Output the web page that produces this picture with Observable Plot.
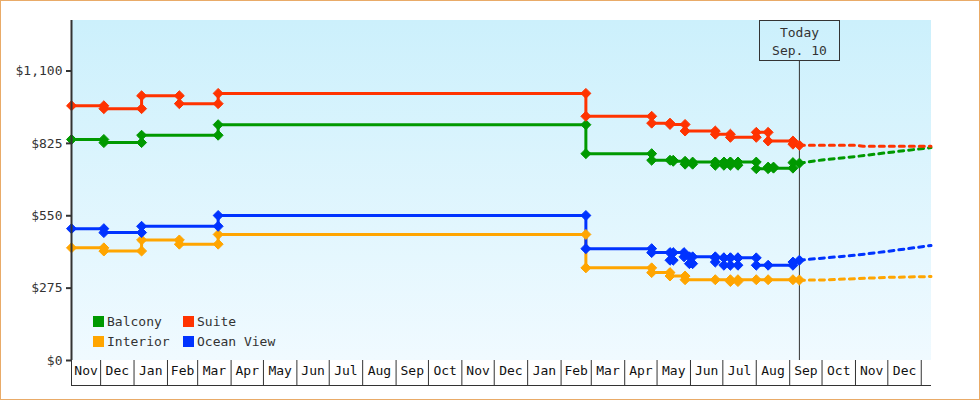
<!DOCTYPE html>
<html><head><meta charset="utf-8">
<script src="https://cdn.jsdelivr.net/npm/d3@7"></script>
<script src="https://cdn.jsdelivr.net/npm/@observablehq/plot@0.6"></script>
<style>
html,body{margin:0;padding:0;background:#fff;}
#wrap{position:relative;width:978px;height:398px;border:1px solid #e9ab68;overflow:hidden;background:#fff;}
#legend{position:absolute;left:92px;top:314px;display:grid;grid-template-columns:90px 110px;grid-auto-rows:20px;font:13px "DejaVu Sans Mono",monospace;color:#333;}
#legend .item{display:flex;align-items:flex-start;line-height:13px;white-space:nowrap;}
#legend .sw{width:11px;height:11px;margin-right:3px;margin-top:1px;flex:none;}
</style></head>
<body><div id="wrap"><div id="legend"></div></div>
<script>
// ---- data ----
const seriesNames = ["Balcony", "Suite", "Interior", "Ocean View"];
const seriesColors = ["#009900", "#ff3300", "#ffa500", "#0033ff"];

const balcony = [
  ["2013-11-04", 840], ["2013-12-04", 840], ["2013-12-04", 828], ["2014-01-08", 828], ["2014-01-08", 856],
  ["2014-03-20", 856], ["2014-03-20", 896], ["2015-02-24", 896], ["2015-02-24", 786], ["2015-04-26", 786],
  ["2015-04-26", 761], ["2015-05-13", 761], ["2015-05-16", 761], ["2015-05-16", 757], ["2015-05-27", 757],
  ["2015-05-27", 746], ["2015-06-03", 746], ["2015-06-03", 754], ["2015-06-24", 754], ["2015-06-24", 742],
  ["2015-06-24", 754], ["2015-07-02", 754], ["2015-07-02", 742], ["2015-07-02", 754], ["2015-07-08", 754],
  ["2015-07-08", 742], ["2015-07-08", 754], ["2015-07-15", 754], ["2015-07-15", 742], ["2015-07-15", 754],
  ["2015-08-01", 754], ["2015-08-01", 729], ["2015-08-12", 729], ["2015-08-12", 735], ["2015-08-17", 735],
  ["2015-08-17", 731], ["2015-09-04", 731], ["2015-09-04", 752], ["2015-09-10", 750]
];
const suite = [
  ["2013-11-04", 968], ["2013-12-04", 968], ["2013-12-04", 957], ["2014-01-08", 957], ["2014-01-08", 1006],
  ["2014-02-12", 1006], ["2014-02-12", 976], ["2014-03-20", 976], ["2014-03-20", 1015], ["2015-02-24", 1015],
  ["2015-02-24", 928], ["2015-04-26", 928], ["2015-04-26", 902], ["2015-05-13", 902], ["2015-05-13", 897],
  ["2015-05-27", 897], ["2015-05-27", 872], ["2015-06-24", 872], ["2015-06-24", 860], ["2015-07-08", 860],
  ["2015-07-08", 848], ["2015-08-01", 848], ["2015-08-01", 867], ["2015-08-12", 867], ["2015-08-12", 834],
  ["2015-09-04", 834], ["2015-09-04", 822], ["2015-09-10", 818]
];
const interior = [
  ["2013-11-04", 428], ["2013-12-04", 428], ["2013-12-04", 416], ["2014-01-08", 416], ["2014-01-08", 458],
  ["2014-02-12", 458], ["2014-02-12", 442], ["2014-03-20", 442], ["2014-03-20", 479], ["2015-02-24", 479],
  ["2015-02-24", 352], ["2015-04-26", 352], ["2015-04-26", 334], ["2015-05-13", 334], ["2015-05-13", 321],
  ["2015-05-27", 321], ["2015-05-27", 307], ["2015-06-24", 307], ["2015-07-08", 307], ["2015-07-08", 300],
  ["2015-07-15", 300], ["2015-07-15", 307], ["2015-08-01", 307], ["2015-08-12", 307], ["2015-09-04", 307],
  ["2015-09-10", 306]
];
const oceanView = [
  ["2013-11-04", 501], ["2013-12-04", 501], ["2013-12-04", 486], ["2014-01-08", 486], ["2014-01-08", 510],
  ["2014-03-20", 510], ["2014-03-20", 551], ["2015-02-24", 551], ["2015-02-24", 425], ["2015-04-26", 425],
  ["2015-04-26", 410], ["2015-05-13", 410], ["2015-05-13", 381], ["2015-05-16", 381], ["2015-05-16", 410],
  ["2015-05-26", 410], ["2015-05-26", 394], ["2015-05-31", 394], ["2015-05-31", 368], ["2015-06-03", 368],
  ["2015-06-03", 394], ["2015-06-24", 394], ["2015-06-24", 374], ["2015-06-24", 390], ["2015-07-02", 390],
  ["2015-07-02", 362], ["2015-07-02", 390], ["2015-07-08", 390], ["2015-07-08", 362], ["2015-07-08", 390],
  ["2015-07-15", 390], ["2015-07-15", 362], ["2015-07-15", 390], ["2015-08-01", 390], ["2015-08-01", 362],
  ["2015-08-12", 362], ["2015-09-04", 362], ["2015-09-04", 374], ["2015-09-10", 381]
];

const balconyForecast = [["2015-09-10", 750], ["2015-10-01", 762], ["2015-11-01", 775], ["2015-12-01", 790], ["2016-01-10", 809]];
const suiteForecast = [["2015-09-10", 818], ["2015-11-01", 818], ["2015-11-08", 814], ["2016-01-10", 814]];
const interiorForecast = [["2015-09-10", 305], ["2015-10-01", 306], ["2015-11-01", 311], ["2015-12-01", 316], ["2016-01-10", 319]];
const oceanViewForecast = [["2015-09-10", 381], ["2015-10-01", 389], ["2015-11-01", 400], ["2015-12-01", 415], ["2016-01-10", 437]];

const monthLabels = ["Nov", "Dec", "Jan", "Feb", "Mar", "Apr", "May", "Jun", "Jul", "Aug", "Sep", "Oct", "Nov", "Dec",
                     "Jan", "Feb", "Mar", "Apr", "May", "Jun", "Jul", "Aug", "Sep", "Oct", "Nov", "Dec"];
const firstMonth = "2013-11-01";
const xDomain = ["2013-11-04", "2016-01-10T12:00"];
const yDomain = [0, 1292];
const yTicks = [0, 275, 550, 825, 1100];
const today = "2015-09-10";
const todayText = ["Today", "Sep. 10"];

// ---- build ----
const parse = s => new Date(s.length > 10 ? s + "Z" : s + "T00:00Z");
const toRows = (arrs) => arrs.flatMap((arr, k) => arr.map(([d, p]) => ({date: parse(d), price: p, series: seriesNames[k]})));
const rows = toRows([balcony, suite, interior, oceanView]);
const fRows = toRows([balconyForecast, suiteForecast, interiorForecast, oceanViewForecast]);

const x0 = parse(xDomain[0]), x1 = parse(xDomain[1]);
const monthStarts = monthLabels.map((_, i) => d3.utcMonth.offset(parse(firstMonth), i));
const monthEnd = d3.utcMonth.offset(monthStarts[monthStarts.length - 1], 1);
const tickDates = [x0, ...monthStarts.slice(1), monthEnd];
const monthMids = monthLabels.map((label, i) => {
  const a = Math.max(+monthStarts[i], +x0);
  const b = Math.min(+(monthStarts[i + 1] || monthEnd), +x1);
  return {label, mid: new Date((a + b) / 2)};
});
const todayDate = parse(today);
const NS = "http://www.w3.org/2000/svg";

function background(index, scales, values, dims) {
  const g = document.createElementNS(NS, "g");
  g.innerHTML = `<defs><linearGradient id="bgGrad" x1="0" y1="0" x2="0" y2="1">
    <stop offset="0%" stop-color="#ccf0fc"/><stop offset="100%" stop-color="#f0faff"/></linearGradient></defs>
    <rect x="${dims.marginLeft}" y="${dims.marginTop}" width="${dims.width - dims.marginLeft - dims.marginRight}"
      height="${dims.height - dims.marginTop - dims.marginBottom}" fill="url(#bgGrad)"/>`;
  return g;
}
function todayBox(index, scales, values, dims) {
  const cx = Math.round(scales.x(todayDate)) + 0.5;
  const top = dims.marginTop + 0.5;
  const g = document.createElementNS(NS, "g");
  g.innerHTML = `<rect x="${cx - 40}" y="${top}" width="80" height="40" fill="none" stroke="#333" stroke-width="1"/>
    <text x="${cx}" y="${top + 16}" text-anchor="middle" fill="#333">${todayText[0]}</text>
    <text x="${cx}" y="${top + 34}" text-anchor="middle" fill="#333">${todayText[1]}</text>`;
  return g;
}

const chart = Plot.plot({
  width: 978, height: 398,
  marginLeft: 70, marginRight: 48, marginTop: 19, marginBottom: 39,
  style: {fontFamily: "DejaVu Sans Mono", fontSize: "13px", background: "transparent", color: "#333"},
  x: {type: "utc", domain: [x0, x1]},
  y: {domain: yDomain},
  color: {domain: seriesNames, range: seriesColors},
  marks: [
    background,
    Plot.ruleX([todayDate], {insetTop: 40.5, stroke: "#333", strokeWidth: 1}),
    Plot.line(fRows, {x: "date", y: "price", z: "series", stroke: "series", strokeWidth: 3, strokeDasharray: "5,5"}),
    Plot.line(rows, {x: "date", y: "price", z: "series", stroke: "series", strokeWidth: 3, curve: "step-after"}),
    Plot.dot(rows, {x: "date", y: "price", fill: "series", stroke: "series", strokeWidth: 1, symbol: "diamond2", r: 4.5}),
    todayBox,
    Plot.ruleX([x0], {stroke: "#333", strokeWidth: 2}),
    Plot.axisY({ticks: yTicks, tickFormat: d => "$" + d3.format(",")(d), tickSize: 5, tickPadding: 4,
                strokeWidth: 2, color: "#333", label: null}),
    Plot.axisX({ticks: tickDates, tickSize: 25, tickFormat: () => "", color: "#333", label: null}),
    Plot.ruleY([0], {dy: 25, stroke: "#333"}),
    Plot.text(monthMids, {x: "mid", text: "label", frameAnchor: "bottom", dy: 14, fill: "#111"})
  ]
});
document.getElementById("wrap").prepend(chart);

const legend = document.getElementById("legend");
[0, 1, 2, 3].forEach(k => {
  const it = document.createElement("div");
  it.className = "item";
  it.innerHTML = `<span class="sw" style="background:${seriesColors[k]}"></span><span>${seriesNames[k]}</span>`;
  legend.appendChild(it);
});
</script></body></html>
